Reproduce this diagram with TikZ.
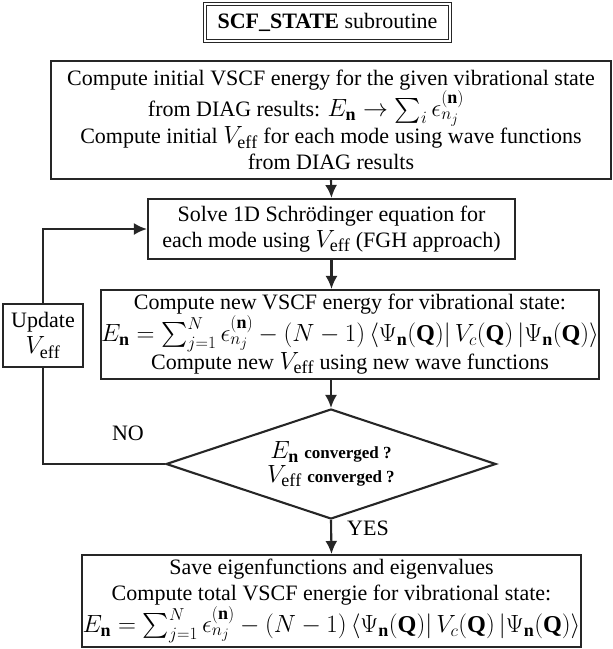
\documentclass[tikz,border=0pt]{standalone}
\usepackage{amsmath}
\usepackage{fontspec}
\setmainfont{Liberation Serif}
\DeclareMathSizes{22}{24.2}{18}{14}
\usetikzlibrary{shapes.geometric,arrows.meta}
\begin{document}
\begin{tikzpicture}[x=1pt,y=1pt,
  every node/.style={font=\fontsize{22}{26}\selectfont},
  box/.style={draw=black!85, line width=2.1pt, inner sep=0pt, align=center},
  titlebox/.style={draw=black!85, line width=1.2pt, double, double distance=1.8pt, inner sep=0pt, align=center},
  decision/.style={draw=black!85, line width=2.1pt, diamond, shape aspect=3, inner sep=0pt, align=center},
  arr/.style={draw=black!85, line width=2.1pt, -{Latex[length=13pt,width=12pt]}},
  line/.style={draw=black!85, line width=2.1pt},
  lbl/.style={inner sep=0pt}
]
\useasboundingbox (0,0) rectangle (613,-649);

\node[titlebox, minimum width=245, minimum height=37] (title) at (327.5,-22.5)
  {\textbf{SCF\_STATE} subroutine};

\node[box, minimum width=560, minimum height=118] (b1) at (331,-120)
  {Compute initial VSCF energy for the given vibrational state\\
   from DIAG results: $E_{\mathbf{n}} \rightarrow \sum_i \epsilon_{n_j}^{(\mathbf{n})}$\makebox[50pt]{}\\
   Compute initial $V_{\mathrm{eff}}$ for each mode using wave functions\\
   from DIAG results};

\node[box, minimum width=367, minimum height=60] (b2) at (331.5,-229)
  {Solve 1D Schrödinger equation for\\
   each mode using $V_{\mathrm{eff}}$ (FGH approach)};

\node[box, minimum width=498, minimum height=89] (b3) at (350,-334.5)
  {Compute new VSCF energy for vibrational state:\\
   $E_{\mathbf{n}} = \sum_{j=1}^{N} \epsilon_{n_j}^{(\mathbf{n})} - (N-1)\left\langle \Psi_{\mathbf{n}}(\mathbf{Q})\right| V_c(\mathbf{Q}) \left|\Psi_{\mathbf{n}}(\mathbf{Q})\right\rangle$\\
   Compute new $V_{\mathrm{eff}}$ using new wave functions};

\node[box, minimum width=80, minimum height=63] (upd) at (43,-335.5)
  {Update\\ $V_{\mathrm{eff}}$};

\node[decision, minimum width=330, minimum height=110] (dia) at (331,-464)
  {$E_{\mathbf{n}}$ {\fontsize{17}{22}\selectfont\bfseries converged ?}\\[-2pt]
   $V_{\mathrm{eff}}$ {\fontsize{17}{22}\selectfont\bfseries converged ?}};

\node[box, minimum width=499, minimum height=92] (b4) at (331.5,-601)
  {Save eigenfunctions and eigenvalues\\
   Compute total VSCF energie for vibrational state:\\
   $E_{\mathbf{n}} = \sum_{j=1}^{N} \epsilon_{n_j}^{(\mathbf{n})} - (N-1)\left\langle \Psi_{\mathbf{n}}(\mathbf{Q})\right| V_c(\mathbf{Q}) \left|\Psi_{\mathbf{n}}(\mathbf{Q})\right\rangle$};

\draw[arr] (b1.south) -- (b2.north);
\draw[arr] (b2.south) -- (b2.south |- b3.north);
\draw[arr] (dia.north |- b3.south) -- (dia.north);
\draw[arr] (dia.south) -- (b4.north);
\draw[line] (dia.west) -| (upd.south);
\draw[arr] (upd.north) |- (b2.west);

\node[lbl] (no) at (128,-433) {NO};
\node[lbl] (yes) at (368,-528) {YES};
\end{tikzpicture}
\end{document}
